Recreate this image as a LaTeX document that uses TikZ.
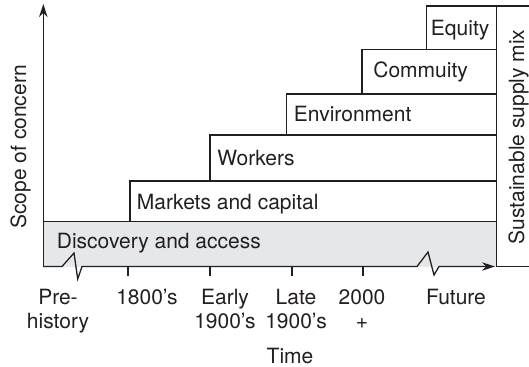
\documentclass[tikz,border=0pt]{standalone}
\usepackage{fontspec}
\setmainfont{TeX Gyre Heros}
\usetikzlibrary{arrows.meta}

\definecolor{ink}{HTML}{231F20}
\definecolor{bandgray}{HTML}{E6E7E8}

\tikzset{
    band/.style={draw=ink, line width=0.65pt},
    axis/.style={draw=ink, line width=0.65pt},
    tickmark/.style={draw=ink, line width=0.65pt},
    lbl/.style={inner sep=0pt, anchor=base west, text=ink, font=\fontsize{10.5}{12}\selectfont},
    era/.style={inner sep=0pt, anchor=base, align=center, text=ink, font=\fontsize{10.5}{12}\selectfont},
    side/.style={inner sep=0pt, anchor=base, rotate=90, text=ink, font=\fontsize{10.5}{12}\selectfont},
    tip/.style={-{Stealth[length=6.5pt,width=4.2pt]}}
}

\begin{document}
\begin{tikzpicture}[x=0.5pt, y=-0.5pt]
    \useasboundingbox (0,0) rectangle (529,366);

    % stacked bands, oldest at the bottom
    \fill[bandgray] (43,221.7) rectangle (496.7,266.5);
    \draw[band] (43,221.7) -- (496.7,221.7);
    \draw[band] (130,181)   rectangle (496.7,221.7);
    \draw[band] (210,135)   rectangle (496.7,181);
    \draw[band] (286.7,94)  rectangle (496.7,135);
    \draw[band] (362,49.3)  rectangle (496.7,94);
    \draw[band] (426.7,6)   rectangle (496.7,49.3);
    \draw[band] (529,6) -| (496.7,266.5) -- (529,266.5);

    \node[lbl](disc) at (56.5,248)  {Discovery and access};
    \node[lbl](mkt)  at (136.5,209.5) {Markets and capital};
    \node[lbl](wrk)  at (217,165.5) {Workers};
    \node[lbl](env)  at (293.5,121.7) {Environment};
    \node[lbl](com)  at (373,77.3)  {Commuity};
    \node[lbl](eq)   at (430.5,35)  {Equity};

    % axes
    \coordinate (o)    at (43.3,266.5);
    \coordinate (ytop) at (43.3,4);
    \coordinate (xend) at (495,266.5);
    \draw[axis, tip] (o) -- (ytop);
    \draw[axis, tip] (o) -- (62,266.5) -- (74,253) -- (77.7,279) -- (82,266.5)
        -- (417,266.5) -- (428,252) -- (434,275) -- (439,266.5) -- (xend);

    \foreach \x in {128,210,292,363}
        \draw[tickmark] (\x,266.5) -- (\x,276);

    % base of a two-line label is its second line
    \node[era](pre)   at (58,328)  {Pre-\\history};
    \node[era](c18)   at (147,304) {1800's};
    \node[era](early) at (225,328) {Early\\1900's};
    \node[era](late)  at (296,328) {Late\\1900's};
    \node[era](y2k)   at (362,328) {2000\\+};
    \node[era](fut)   at (456,304) {Future};
    \node[era](time)  at (290,363) {Time};

    \node[side](scope) at (26,147)  {Scope of concern};
    \node[side](mix)   at (524,137) {Sustainable supply mix};
\end{tikzpicture}
\end{document}
